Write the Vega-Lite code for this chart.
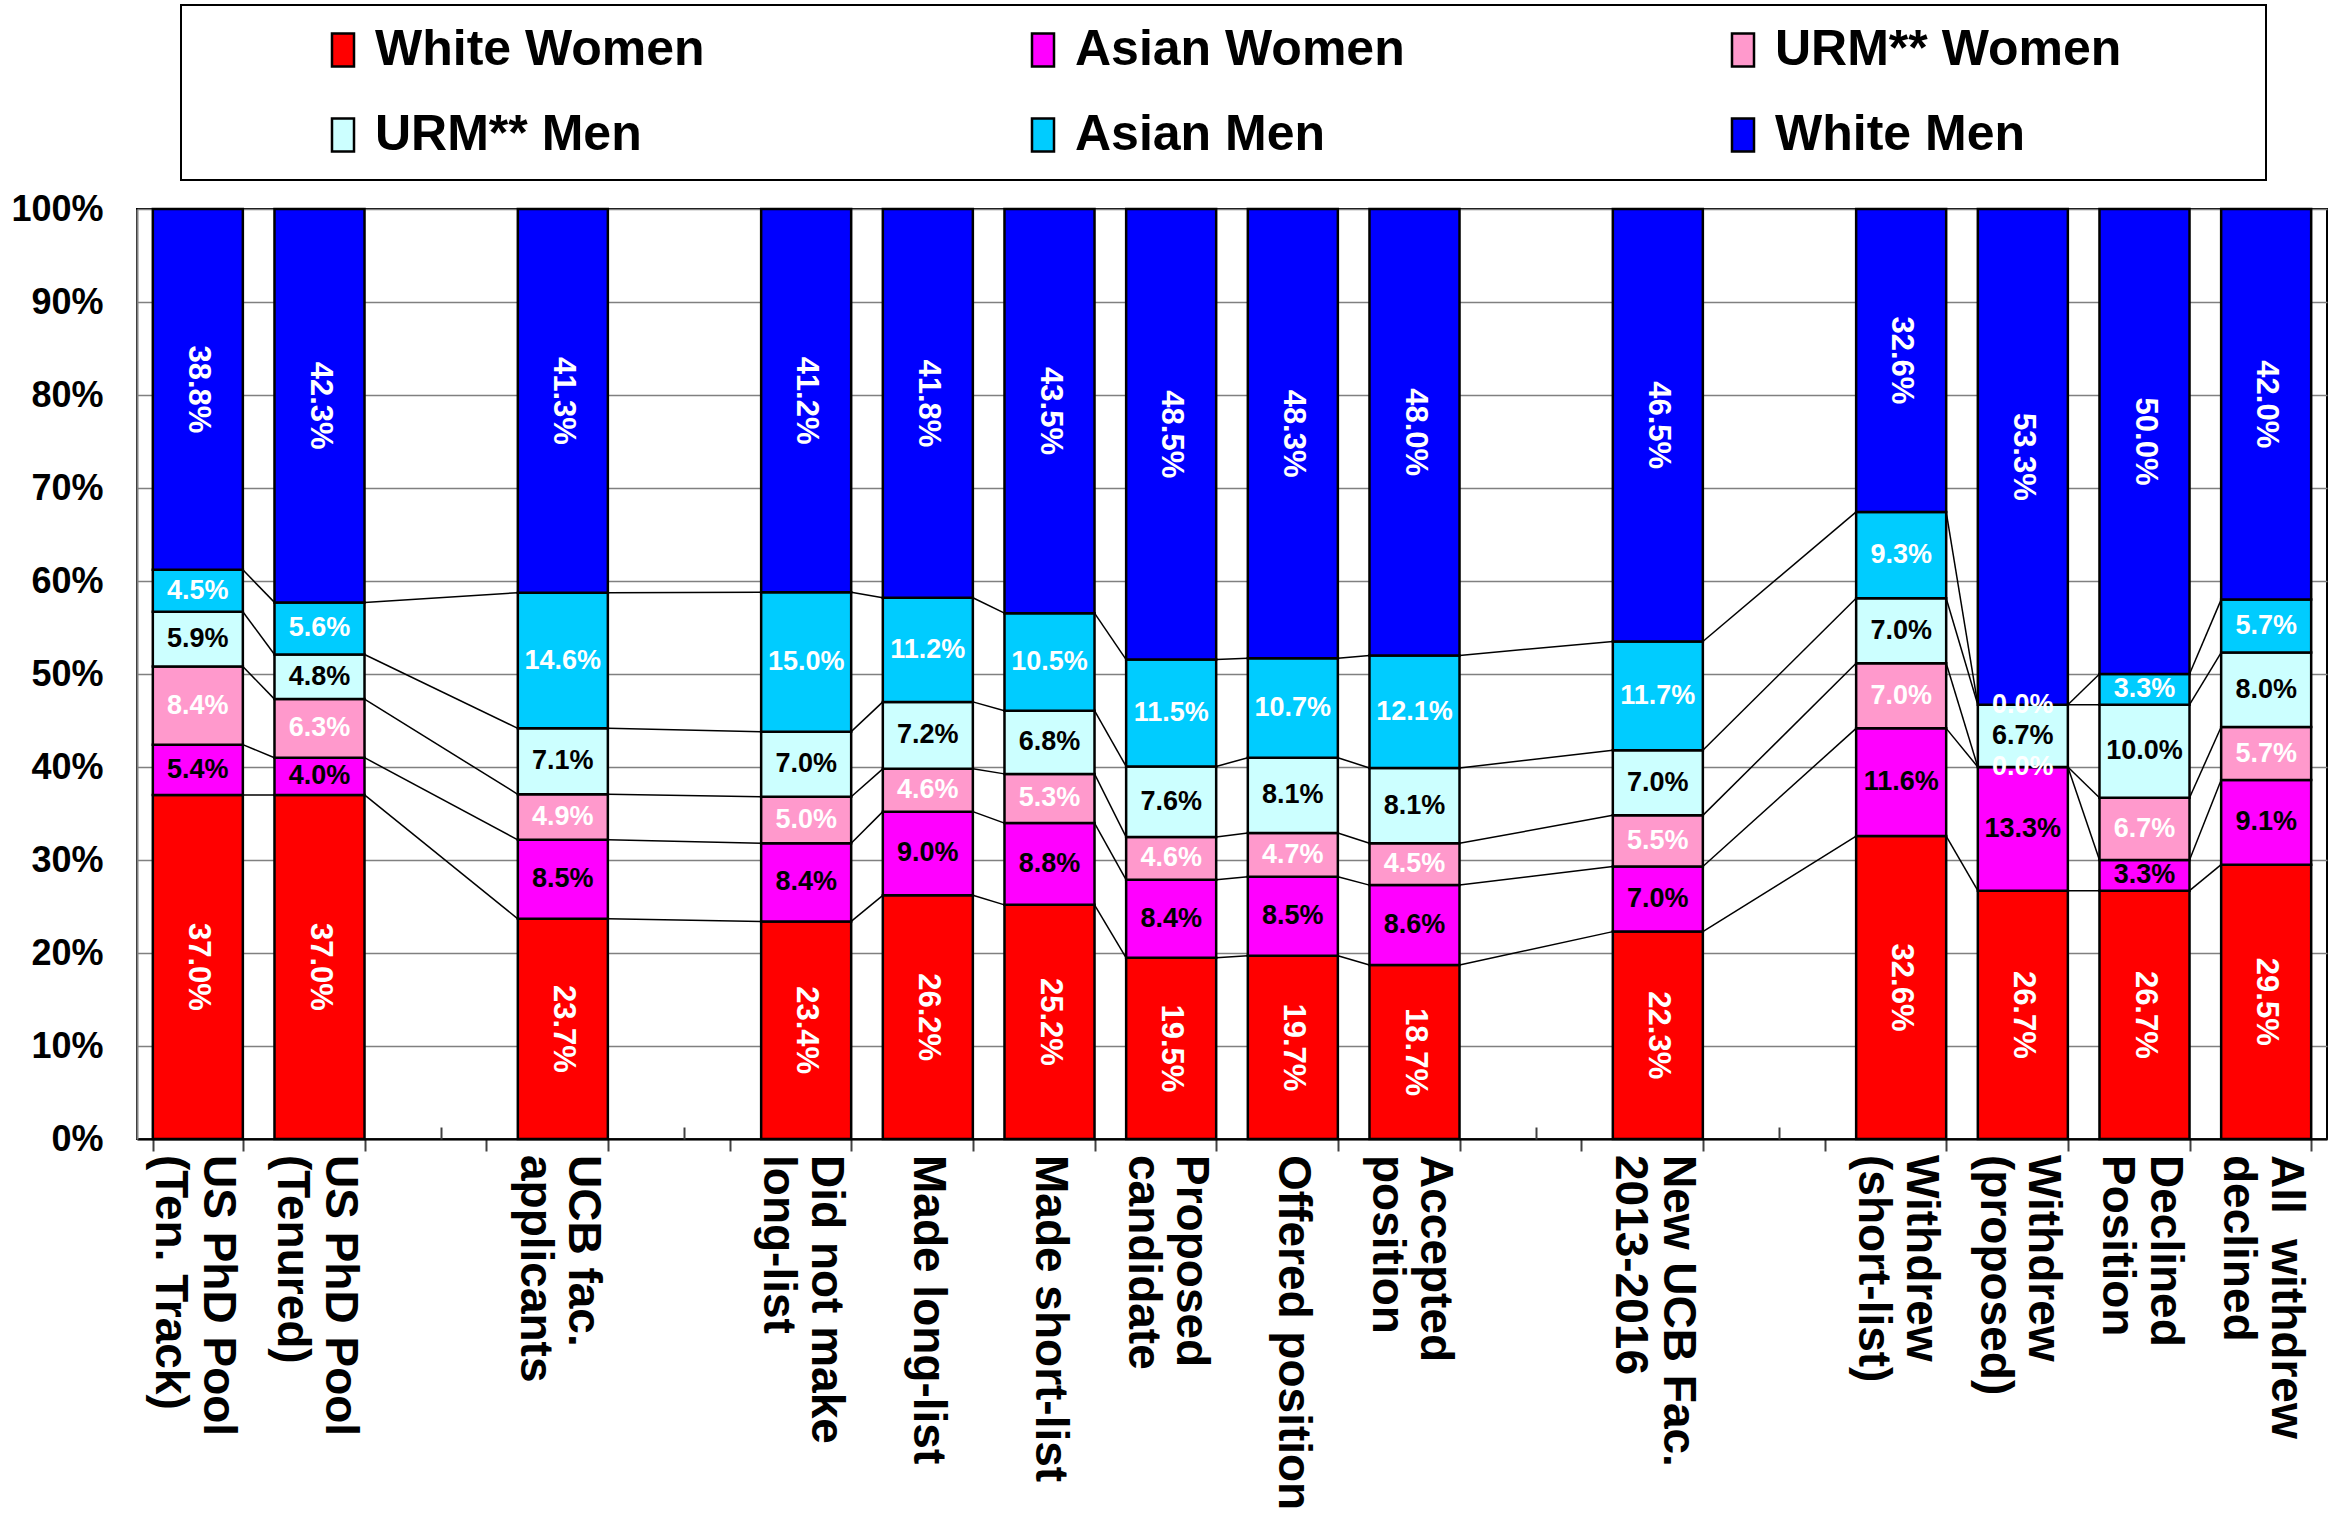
{
"$schema": "https://vega.github.io/schema/vega-lite/v6.json",
"width": 2190, "height": 930,
"autosize": {"type": "none"},
"padding": {"left": 137, "top": 209, "right": 16, "bottom": 387},
"background": "white",
"config": {"font": "Liberation Sans", "view": {"stroke": "black", "strokeWidth": 2}, "legend": {"strokeWidth": 2}},
"data": {"values": [
{"cat":"US PhD Pool|(Ten. Track)","grp":"White Women","pct":37.0},
{"cat":"US PhD Pool|(Ten. Track)","grp":"Asian Women","pct":5.4},
{"cat":"US PhD Pool|(Ten. Track)","grp":"URM** Women","pct":8.4},
{"cat":"US PhD Pool|(Ten. Track)","grp":"URM** Men","pct":5.9},
{"cat":"US PhD Pool|(Ten. Track)","grp":"Asian Men","pct":4.5},
{"cat":"US PhD Pool|(Ten. Track)","grp":"White Men","pct":38.8},
{"cat":"US PhD Pool|(Tenured)","grp":"White Women","pct":37.0},
{"cat":"US PhD Pool|(Tenured)","grp":"Asian Women","pct":4.0},
{"cat":"US PhD Pool|(Tenured)","grp":"URM** Women","pct":6.3},
{"cat":"US PhD Pool|(Tenured)","grp":"URM** Men","pct":4.8},
{"cat":"US PhD Pool|(Tenured)","grp":"Asian Men","pct":5.6},
{"cat":"US PhD Pool|(Tenured)","grp":"White Men","pct":42.3},
{"cat":"UCB fac.|applicants","grp":"White Women","pct":23.7},
{"cat":"UCB fac.|applicants","grp":"Asian Women","pct":8.5},
{"cat":"UCB fac.|applicants","grp":"URM** Women","pct":4.9},
{"cat":"UCB fac.|applicants","grp":"URM** Men","pct":7.1},
{"cat":"UCB fac.|applicants","grp":"Asian Men","pct":14.6},
{"cat":"UCB fac.|applicants","grp":"White Men","pct":41.3},
{"cat":"Did not make|long-list","grp":"White Women","pct":23.4},
{"cat":"Did not make|long-list","grp":"Asian Women","pct":8.4},
{"cat":"Did not make|long-list","grp":"URM** Women","pct":5.0},
{"cat":"Did not make|long-list","grp":"URM** Men","pct":7.0},
{"cat":"Did not make|long-list","grp":"Asian Men","pct":15.0},
{"cat":"Did not make|long-list","grp":"White Men","pct":41.2},
{"cat":"Made long-list","grp":"White Women","pct":26.2},
{"cat":"Made long-list","grp":"Asian Women","pct":9.0},
{"cat":"Made long-list","grp":"URM** Women","pct":4.6},
{"cat":"Made long-list","grp":"URM** Men","pct":7.2},
{"cat":"Made long-list","grp":"Asian Men","pct":11.2},
{"cat":"Made long-list","grp":"White Men","pct":41.8},
{"cat":"Made short-list","grp":"White Women","pct":25.2},
{"cat":"Made short-list","grp":"Asian Women","pct":8.8},
{"cat":"Made short-list","grp":"URM** Women","pct":5.3},
{"cat":"Made short-list","grp":"URM** Men","pct":6.8},
{"cat":"Made short-list","grp":"Asian Men","pct":10.5},
{"cat":"Made short-list","grp":"White Men","pct":43.5},
{"cat":"Proposed|candidate","grp":"White Women","pct":19.5},
{"cat":"Proposed|candidate","grp":"Asian Women","pct":8.4},
{"cat":"Proposed|candidate","grp":"URM** Women","pct":4.6},
{"cat":"Proposed|candidate","grp":"URM** Men","pct":7.6},
{"cat":"Proposed|candidate","grp":"Asian Men","pct":11.5},
{"cat":"Proposed|candidate","grp":"White Men","pct":48.5},
{"cat":"Offered position","grp":"White Women","pct":19.7},
{"cat":"Offered position","grp":"Asian Women","pct":8.5},
{"cat":"Offered position","grp":"URM** Women","pct":4.7},
{"cat":"Offered position","grp":"URM** Men","pct":8.1},
{"cat":"Offered position","grp":"Asian Men","pct":10.7},
{"cat":"Offered position","grp":"White Men","pct":48.3},
{"cat":"Accepted|position","grp":"White Women","pct":18.7},
{"cat":"Accepted|position","grp":"Asian Women","pct":8.6},
{"cat":"Accepted|position","grp":"URM** Women","pct":4.5},
{"cat":"Accepted|position","grp":"URM** Men","pct":8.1},
{"cat":"Accepted|position","grp":"Asian Men","pct":12.1},
{"cat":"Accepted|position","grp":"White Men","pct":48.0},
{"cat":"New UCB Fac.|2013-2016","grp":"White Women","pct":22.3},
{"cat":"New UCB Fac.|2013-2016","grp":"Asian Women","pct":7.0},
{"cat":"New UCB Fac.|2013-2016","grp":"URM** Women","pct":5.5},
{"cat":"New UCB Fac.|2013-2016","grp":"URM** Men","pct":7.0},
{"cat":"New UCB Fac.|2013-2016","grp":"Asian Men","pct":11.7},
{"cat":"New UCB Fac.|2013-2016","grp":"White Men","pct":46.5},
{"cat":"Withdrew|(short-list)","grp":"White Women","pct":32.6},
{"cat":"Withdrew|(short-list)","grp":"Asian Women","pct":11.6},
{"cat":"Withdrew|(short-list)","grp":"URM** Women","pct":7.0},
{"cat":"Withdrew|(short-list)","grp":"URM** Men","pct":7.0},
{"cat":"Withdrew|(short-list)","grp":"Asian Men","pct":9.3},
{"cat":"Withdrew|(short-list)","grp":"White Men","pct":32.6},
{"cat":"Withdrew|(proposed)","grp":"White Women","pct":26.7},
{"cat":"Withdrew|(proposed)","grp":"Asian Women","pct":13.3},
{"cat":"Withdrew|(proposed)","grp":"URM** Women","pct":0.0},
{"cat":"Withdrew|(proposed)","grp":"URM** Men","pct":6.7},
{"cat":"Withdrew|(proposed)","grp":"Asian Men","pct":0.0},
{"cat":"Withdrew|(proposed)","grp":"White Men","pct":53.3},
{"cat":"Declined|Position","grp":"White Women","pct":26.7},
{"cat":"Declined|Position","grp":"Asian Women","pct":3.3},
{"cat":"Declined|Position","grp":"URM** Women","pct":6.7},
{"cat":"Declined|Position","grp":"URM** Men","pct":10.0},
{"cat":"Declined|Position","grp":"Asian Men","pct":3.3},
{"cat":"Declined|Position","grp":"White Men","pct":50.0},
{"cat":"All withdrew|declined","grp":"White Women","pct":29.5},
{"cat":"All withdrew|declined","grp":"Asian Women","pct":9.1},
{"cat":"All withdrew|declined","grp":"URM** Women","pct":5.7},
{"cat":"All withdrew|declined","grp":"URM** Men","pct":8.0},
{"cat":"All withdrew|declined","grp":"Asian Men","pct":5.7},
{"cat":"All withdrew|declined","grp":"White Men","pct":42.0}
]},
"transform": [
{"calculate": "indexof(['White Women','Asian Women','URM** Women','URM** Men','Asian Men','White Men'], datum.grp)", "as": "gi"},
{"calculate": "indexof(['US PhD Pool|(Ten. Track)','US PhD Pool|(Tenured)',' ','UCB fac.|applicants','  ','Did not make|long-list','Made long-list','Made short-list','Proposed|candidate','Offered position','Accepted|position','   ','New UCB Fac.|2013-2016','    ','Withdrew|(short-list)','Withdrew|(proposed)','Declined|Position','All withdrew|declined'], datum.cat)", "as": "ci"},
{"stack": "pct", "groupby": ["cat"], "sort": [{"field": "gi", "order": "ascending"}], "offset": "normalize", "as": ["y0", "y1"]},
{"calculate": "(datum.y0 + datum.y1) / 2", "as": "ym"},
{"calculate": "format(datum.pct, '.1f') + '%'", "as": "lab"}
],
"resolve": {"axis": {"x": "independent"}},
"layer": [
{
"mark": {"type": "bar", "stroke": "black", "strokeWidth": 2.5},
"encoding": {
"x": {"field": "cat", "type": "nominal",
"scale": {"domain": ["US PhD Pool|(Ten. Track)","US PhD Pool|(Tenured)"," ","UCB fac.|applicants","  ","Did not make|long-list","Made long-list","Made short-list","Proposed|candidate","Offered position","Accepted|position","   ","New UCB Fac.|2013-2016","    ","Withdrew|(short-list)","Withdrew|(proposed)","Declined|Position","All withdrew|declined"], "paddingInner": 0.26, "paddingOuter": 0.13},
"axis": {"orient": "bottom", "title": null, "labels": false, "tickBand": "extent", "tickSize": 12, "tickColor": "#404040", "tickWidth": 2, "domainColor": "black", "domainWidth": 2, "grid": false}},
"y": {"field": "y0", "type": "quantitative", "scale": {"domain": [0, 1]},
"axis": {"title": null, "values": [0,0.1,0.2,0.3,0.4,0.5,0.6,0.7,0.8,0.9,1], "format": ".0%", "labelFontSize": 36, "labelFontWeight": "bold", "labelColor": "black", "labelPadding": 34, "ticks": false, "domainColor": "#808080", "domainWidth": 2, "grid": true, "gridColor": "#808080", "gridWidth": 1.5}},
"y2": {"field": "y1"},
"color": {"field": "grp", "type": "nominal",
"scale": {"domain": ["White Women","Asian Women","URM** Women","URM** Men","Asian Men","White Men"], "range": ["#FF0000","#FF00FF","#FF99CC","#CCFFFF","#00CCFF","#0000FF"]},
"legend": {"orient": "none", "legendX": 44, "legendY": -204, "columns": 3, "direction": "horizontal", "title": " ", "titleOrient": "right", "titlePadding": 125, "titleFontSize": 10, "padding": 20, "strokeColor": "black", "fillColor": "white", "labelFontSize": 50, "labelFontWeight": "bold", "labelColor": "black", "labelFont": "Liberation Sans", "symbolOffset": 117, "labelOffset": 7, "labelLimit": 1000, "symbolType": "M-0.667,-1H0.667V1H-0.667Z", "symbolSize": 1089, "symbolStrokeColor": "black", "symbolStrokeWidth": 2.5, "symbolOpacity": 1, "columnPadding": 179, "rowPadding": 35, "gridAlign": "all"}}
}
},
{
"transform": [
{"window": [{"op": "lead", "field": "y1", "as": "ny1"}, {"op": "lead", "field": "cat", "as": "ncat"}], "groupby": ["grp"], "sort": [{"field": "ci", "order": "ascending"}]},
{"filter": "datum.ncat != null && datum.gi < 5"}
],
"mark": {"type": "rule", "color": "black", "strokeWidth": 1.5},
"encoding": {
"x": {"field": "cat", "type": "nominal", "bandPosition": 1,
"axis": {"orient": "bottom", "title": null, "labels": false, "domain": false, "grid": false, "tickBand": "center", "tickSize": -12, "tickColor": "#404040", "tickWidth": 2}},
"x2": {"field": "ncat", "bandPosition": 0},
"y": {"field": "y1", "type": "quantitative", "axis": {"title": null}},
"y2": {"field": "ny1"}
}
},
{
"transform": [{"filter": "datum.gi >= 1 && datum.gi <= 4"}],
"mark": {"type": "text", "fontSize": 27, "fontWeight": "bold", "align": "center", "baseline": "middle"},
"encoding": {
"x": {"field": "cat", "type": "nominal", "axis": null},
"y": {"field": "ym", "type": "quantitative", "axis": {"title": null}},
"text": {"field": "lab"},
"fill": {"condition": {"test": "datum.gi == 1 || datum.gi == 3", "value": "black"}, "value": "white"}
}
},
{
"transform": [{"filter": "datum.gi == 0 || datum.gi == 5"}],
"mark": {"type": "text", "fontSize": 31, "fontWeight": "bold", "align": "center", "baseline": "middle", "angle": 90, "fill": "white"},
"encoding": {
"x": {"field": "cat", "type": "nominal", "axis": null},
"y": {"field": "ym", "type": "quantitative", "axis": {"title": null}},
"text": {"field": "lab"}
}
},
{
"transform": [
{"filter": "datum.gi == 0 && indexof(datum.cat, '|') < 0"}
],
"mark": {"type": "text", "fontSize": 46, "fontWeight": "bold", "align": "left", "baseline": "middle", "angle": 90, "dx": 16, "dy": 0, "fill": "black"},
"encoding": {
"x": {"field": "cat", "type": "nominal", "axis": null},
"y": {"datum": 0, "type": "quantitative", "axis": {"title": null}},
"text": {"field": "cat"}
}
},
{
"transform": [
{"filter": "datum.gi == 0 && indexof(datum.cat, '|') >= 0"},
{"calculate": "split(['US PhD Pool|\u00a0(Ten. Track)','US PhD Pool|\u00a0\u00a0\u00a0(Tenured)','\u00a0\u00a0UCB fac.|applicants','Did not make|\u00a0\u00a0\u00a0\u00a0long-list','Proposed|candidate','Accepted|\u00a0position','New UCB Fac.|\u00a0\u00a0\u00a0\u00a02013-2016','\u00a0\u00a0Withdrew|(short-list)','\u00a0Withdrew|(proposed)','Declined|Position','All\u00a0\u00a0withdrew|\u00a0\u00a0\u00a0\u00a0declined'][indexof(['US PhD Pool|(Ten. Track)','US PhD Pool|(Tenured)','UCB fac.|applicants','Did not make|long-list','Proposed|candidate','Accepted|position','New UCB Fac.|2013-2016','Withdrew|(short-list)','Withdrew|(proposed)','Declined|Position','All withdrew|declined'], datum.cat)], '|')", "as": "xl"}
],
"mark": {"type": "text", "fontSize": 46, "fontWeight": "bold", "align": "left", "baseline": "middle", "angle": 90, "dx": 16, "dy": -20, "lineHeight": 48, "fill": "black"},
"encoding": {
"x": {"field": "cat", "type": "nominal", "axis": null},
"y": {"datum": 0, "type": "quantitative", "axis": {"title": null}},
"text": {"field": "xl"}
}
}
]
}
